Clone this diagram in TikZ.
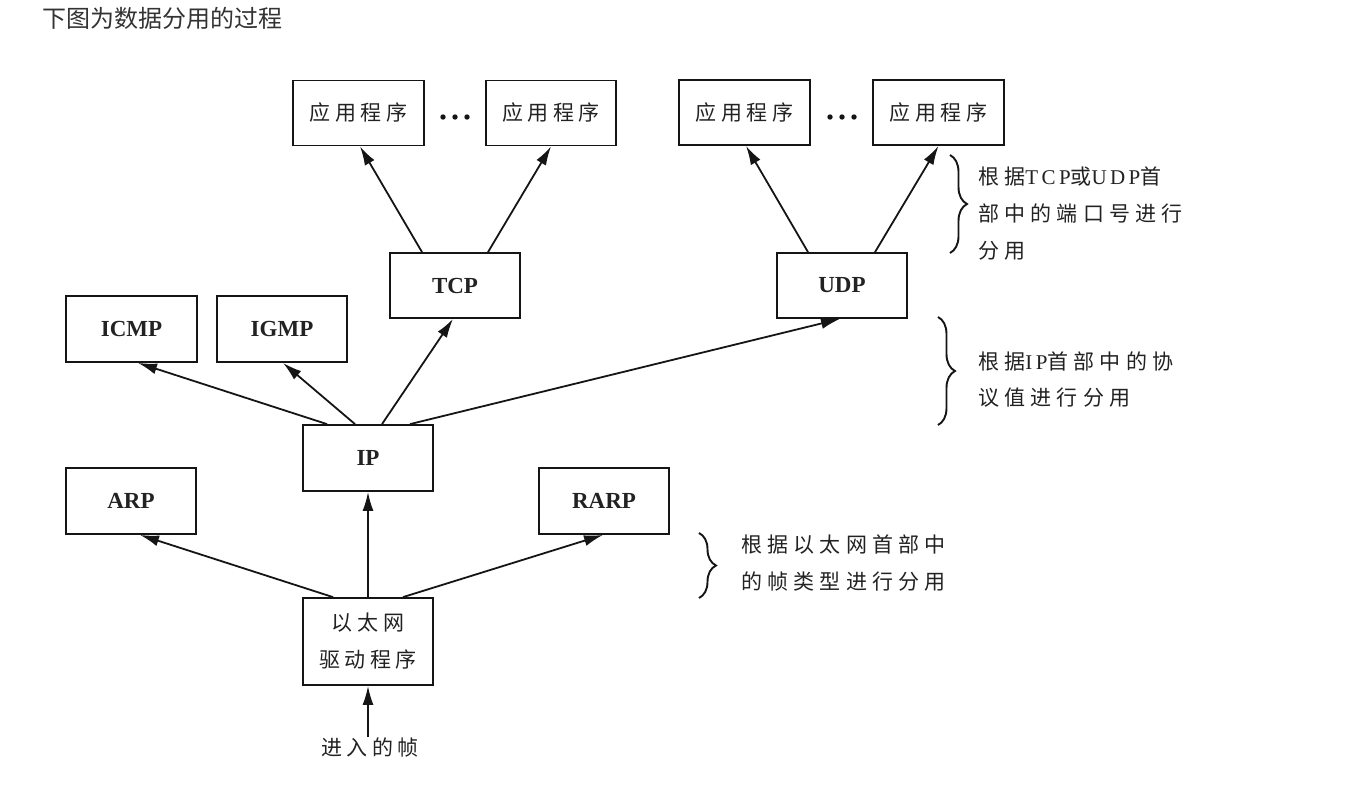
\documentclass[tikz,border=0pt]{standalone}
\usepackage{fontspec}
\setmainfont{Liberation Serif}
\newfontfamily\cjktitle{Noto Sans CJK SC}
\newfontfamily\cjksp[LetterSpace=22]{Noto Sans CJK SC}
\newfontfamily\cjknote[LetterSpace=25]{Noto Sans CJK SC}
\newfontfamily\latsp[LetterSpace=16]{Liberation Serif}
\usetikzlibrary{arrows.meta,decorations.pathreplacing,calc}
\definecolor{txt}{HTML}{222222}
\definecolor{ttl}{HTML}{333333}
\definecolor{ln}{HTML}{151515}
\newcommand\boxlat{\fontsize{23}{25}\selectfont\bfseries}
\newcommand\boxcjk{\cjksp\fontsize{21}{30}\selectfont}
\newcommand\lt[1]{{\latsp #1}}
\begin{document}
\begin{tikzpicture}[x=1pt,y=-1pt,
  box/.style={draw=ln, line width=1.8pt, minimum width=130pt, minimum height=65pt, inner sep=0pt, text=txt},
  arr/.style={draw=ln, line width=1.8pt, -{Latex[length=19pt,width=11pt]}},
  brc/.style={draw=ln, line width=1.9pt, decorate, decoration={brace, amplitude=17pt}},
  note/.style={anchor=west, align=left, inner sep=0pt, text=txt}]
\useasboundingbox (0,0) rectangle (1364,807);

\node[anchor=west, inner sep=0pt, text=ttl, font=\cjktitle\fontsize{24}{27}\selectfont] (title) at (42,18) {下图为数据分用的过程};

% applications
\node[box, minimum width=131pt] (app1) at (358.5,113) {\boxcjk 应用程序};
\node[box] (app2) at (551,113) {\boxcjk 应用程序};
\node[box, minimum width=131pt] (app3) at (744.5,112.5) {\boxcjk 应用程序};
\node[box, minimum width=131pt] (app4) at (938.5,112.5) {\boxcjk 应用程序};
\foreach \x in {443,455,467} \fill[ln] (\x,117) circle (2.7pt);
\foreach \x in {830,842,854} \fill[ln] (\x,117) circle (2.7pt);

% transport
\node[box] (tcp) at (455,285.5) {\boxlat TCP};
\node[box] (udp) at (842,285.5) {\boxlat UDP};

% network
\node[box, minimum width=131pt, minimum height=66pt] (icmp) at (131.5,329) {\boxlat ICMP};
\node[box, minimum height=66pt] (igmp) at (282,329) {\boxlat IGMP};
\node[box, minimum height=66pt] (ip) at (368,458) {\boxlat IP};

% link
\node[box, minimum height=66pt] (arp) at (131,501) {\boxlat ARP};
\node[box, minimum height=66pt] (rarp) at (604,501) {\boxlat RARP};
\node[box, minimum height=87pt, align=center, font={\cjksp\fontsize{21}{37}\selectfont}] (eth) at (368,641.5) {以太网\\驱动程序};
\node[inner sep=0pt, text=txt, font=\boxcjk] (frame) at (370,747) {进入的帧};

% connectors
\draw[arr] ($(tcp.north)+(-33,0)$) -- ($(app1.south)+(1.5,0)$);
\draw[arr] ($(tcp.north)+(33,0)$) -- (app2.south);
\draw[arr] ($(udp.north)+(-34,0)$) -- ($(app3.south)+(1.5,0)$);
\draw[arr] ($(udp.north)+(33,0)$) -- (app4.south);
\draw[arr] ($(ip.north)+(-41,0)$) -- ($(icmp.south)+(6.5,0)$);
\draw[arr] ($(ip.north)+(-13,0)$) -- ($(igmp.south)+(1,0)$);
\draw[arr] ($(ip.north)+(14,0)$) -- ($(tcp.south)+(-2,0)$);
\draw[arr] ($(ip.north)+(42,0)$) -- ($(udp.south)+(-2,0)$);
\draw[arr] ($(eth.north)+(-35,0)$) -- ($(arp.south)+(9,0)$);
\draw[arr] (eth.north) -- (ip.south);
\draw[arr] ($(eth.north)+(35,0)$) -- ($(rarp.south)+(-1,0)$);
\draw[arr] (frame.north -| eth.south) -- (eth.south);

% braces and notes
\draw[brc] (950,155) -- (950,253);
\draw[brc] (938,317) -- (938,425);
\draw[brc] (699,533) -- (699,598);

\node[note, font=\cjknote\fontsize{21}{37}\selectfont] (n1) at (978,214)
  {根据\lt{TCP}或\lt{UDP}首\\部中的端口号进行\\分用};
\node[note, font=\cjknote\fontsize{21}{36}\selectfont] (n2) at (978,380)
  {根据\lt{IP}首部中的协\\议值进行分用};
\node[note, font=\cjknote\fontsize{21}{37}\selectfont] (n3) at (741,563)
  {根据以太网首部中\\的帧类型进行分用};
\end{tikzpicture}
\end{document}
